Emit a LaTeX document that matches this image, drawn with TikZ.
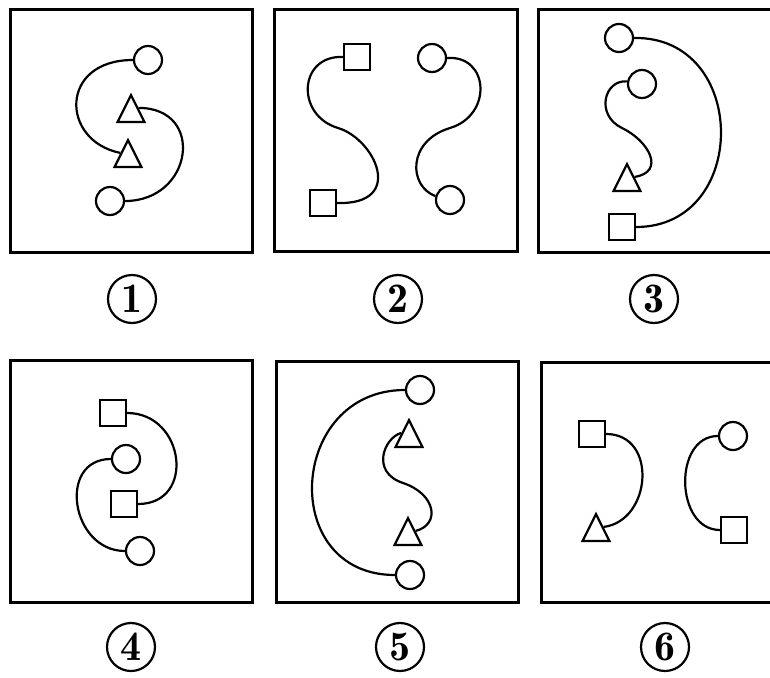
\documentclass[tikz,border=0pt]{standalone}
\usepackage{fontspec}
\newfontfamily\lblfont{lmromandemi10-regular}[Extension=.otf]
\usetikzlibrary{shapes.geometric}
\begin{document}
\begin{tikzpicture}[x=1pt,y=-1pt,
  frame/.style={draw, line width=3pt},
  link/.style={draw, line width=2.2pt},
  circ/.style={circle, draw, line width=2.2pt, minimum size=28pt, inner sep=0pt},
  sq/.style={rectangle, draw, line width=2.2pt, minimum size=26pt, inner sep=0pt},
  tri/.style={regular polygon, regular polygon sides=3, draw, line width=2.2pt, minimum size=31pt, inner sep=0pt, yscale=1.15, transform shape},
  lbl/.style={circle, draw, line width=2.2pt, minimum size=48pt, inner sep=0pt, font=\lblfont\fontsize{42}{42}\selectfont}]
\useasboundingbox (0,0) rectangle (770,677);
\clip (0,0) rectangle (770,677);

% frames
\draw[frame] (10,10) rectangle (252,252);
\draw[frame] (274,10) rectangle (517,251);
\draw[frame] (538,10) rectangle (781,252);
\draw[frame] (10,360) rectangle (252,602);
\draw[frame] (276,361) rectangle (518,602);
\draw[frame] (541,362) rectangle (784,602);

% labels
\node[lbl] (L1) at (132,299) {1};
\node[lbl] (L2) at (398,299) {2};
\node[lbl] (L3) at (654,299) {3};
\node[lbl] (L4) at (131,647) {4};
\node[lbl] (L5) at (400,647) {5};
\node[lbl] (L6) at (665,647) {6};

% panel 1
\node[circ] (p1c1) at (148,60) {};
\node[circ] (p1c2) at (110,201) {};
\node[tri] (p1t1) at (131,113) {};
\node[tri] (p1t2) at (128,158) {};
\draw[link] (p1c1.west) .. controls +(-74,0) and +(-60,-12) .. (p1t2.side 1);
\draw[link] (p1t1.side 3) .. controls +(67,0) and +(68,0) .. (p1c2.east);

% panel 2
\node[sq] (p2s1) at (357,57) {};
\node[circ] (p2c1) at (432,58) {};
\node[sq] (p2s2) at (323,203) {};
\node[circ] (p2c2) at (450,200) {};
\coordinate (m2a) at (338,128);
\coordinate (m2b) at (450,128);
\draw[link] (p2s1.west) .. controls +(-44,-2) and +(-43,-13) .. (m2a)
  .. controls +(37,11) and +(69,2) .. (p2s2.east);
\draw[link] (p2c1.east) .. controls +(42,-3) and +(43,-13) .. (m2b)
  .. controls +(-43,13) and +(-27,-10) .. (p2c2.165);

% panel 3
\node[circ] (p3c1) at (619,38) {};
\node[circ] (p3c2) at (642,84) {};
\node[tri] (p3t) at (627,182) {};
\node[sq] (p3s) at (622,227) {};
\coordinate (m3) at (622,128);
\draw[link] (p3c1.east) .. controls +(115,-2) and +(114,0) .. (p3s.east);
\draw[link] (p3c2.170) .. controls +(-23,-2) and +(-27,-13) .. (m3)
  .. controls +(27,13) and +(31,-5) .. (p3t.side 3);

% panel 4
\node[sq] (p4s1) at (113,413) {};
\node[circ] (p4c1) at (126,459) {};
\node[sq] (p4s2) at (124,504) {};
\node[circ] (p4c2) at (140,551) {};
\draw[link] (p4s1.east) .. controls +(58,0) and +(58,0) .. (p4s2.east);
\draw[link] (p4c1.west) .. controls +(-54,0) and +(-54,0) .. (p4c2.west);

% panel 5
\node[circ] (p5c1) at (420,390) {};
\node[tri] (p5t1) at (409,438) {};
\node[tri] (p5t2) at (408,536) {};
\node[circ] (p5c2) at (410,575) {};
\coordinate (m5) at (403,483);
\draw[link] (p5c1.west) .. controls +(-117,0) and +(-117,0) .. (p5c2.west);
\draw[link] (p5t1.side 1) .. controls +(-17,4.5) and +(-33,-11) .. (m5)
  .. controls +(33,11) and +(25,-6.5) .. (p5t2.side 3);

% panel 6
\node[sq] (p6s1) at (592,434) {};
\node[tri] (p6t1) at (596,532) {};
\node[circ] (p6c1) at (733,436) {};
\node[sq] (p6s2) at (734,530) {};
\draw[link] (p6s1.east) .. controls +(52,0) and +(48,-6) .. (p6t1.side 3);
\draw[link] (p6c1.west) .. controls +(-45,0) and +(-45,0) .. (p6s2.west);
\end{tikzpicture}
\end{document}
